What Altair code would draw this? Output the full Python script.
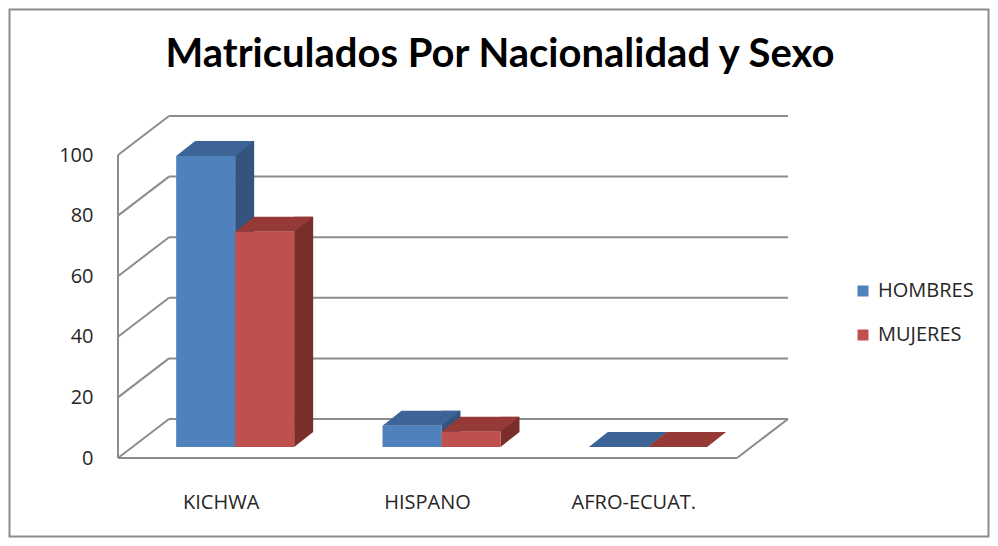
import altair as alt
import pandas as pd

# ---- data ----
categories = ["KICHWA", "HISPANO", "AFRO-ECUAT."]
sexos = ["HOMBRES", "MUJERES"]
hombres = [96, 7, 0]
mujeres = [71, 5, 0]
tick_values = [0, 20, 40, 60, 80, 100]
title_text = "Matriculados Por Nacionalidad y Sexo"

rows = []
for c, h, m in zip(categories, hombres, mujeres):
    rows.append({"Nacionalidad": c, "Sexo": "HOMBRES", "Valor": h})
    rows.append({"Nacionalidad": c, "Sexo": "MUJERES", "Valor": m})
df = pd.DataFrame(rows)
ticks_df = pd.DataFrame({"v": tick_values})

# ---- styling ----
front_colors = {"HOMBRES": "#4f81bd", "MUJERES": "#c0504d"}
top_colors = {"HOMBRES": "#3c6496", "MUJERES": "#953a37"}
side_colors = {"HOMBRES": "#34537d", "MUJERES": "#7a2e2c"}
# horizontal position of each series' front face relative to the category centre
series_shift = {"HOMBRES": -15.5, "MUJERES": 43.5}
LINE = "#8c8c8c"
FONT = "Open Sans"
TXT = "#262626"
W, H = 619, 303
DX, DY = 51, -39        # wall depth
BW = 59                 # bar width
BD_X, BD_Y = 19, -15    # bar depth
BAR_Y = -11             # bars sit slightly behind the front edge

yscale = alt.Scale(domain=[0, 100], nice=False, zero=True)
xscale = alt.Scale(domain=categories, paddingInner=0.427, paddingOuter=0.2135)

X_AXIS = alt.Axis(title=None, labelAngle=0, domain=False, ticks=False, grid=False,
                  labelFont=FONT, labelFontSize=20, labelColor=TXT, labelPadding=34)
Y_AXIS = alt.Axis(values=tick_values, title=None, domain=False, ticks=False,
                  grid=False, labelFont=FONT, labelFontSize=20,
                  labelColor=TXT, labelPadding=25)

x_enc = alt.X("Nacionalidad:N", scale=xscale, sort=categories, axis=X_AXIS, title=None)
y_val = alt.Y("Valor:Q", scale=yscale, stack=None, axis=Y_AXIS, title=None)
y_v = alt.Y("v:Q", scale=yscale, axis=Y_AXIS, title=None)
y_zero = alt.Y(datum=0, type="quantitative", scale=yscale, axis=Y_AXIS, title=None)

one = alt.Data(values=[{}])

# ---- walls / floor ----
left_edge = alt.Chart(one).mark_rule(color=LINE, strokeWidth=2).encode(
    x=alt.value(0), y=y_zero, y2=alt.Y2(datum=100))
left_diag = alt.Chart(ticks_df).mark_rule(color=LINE, strokeWidth=2, y2Offset=DY).encode(
    x=alt.value(0), x2=alt.value(DX), y=y_v, y2=alt.Y2("v:Q"))
back_grid = alt.Chart(ticks_df).mark_rule(color=LINE, strokeWidth=2, yOffset=DY).encode(
    x=alt.value(DX), x2=alt.value(W + DX), y=y_v)
floor_front = alt.Chart(one).mark_rule(color=LINE, strokeWidth=2).encode(
    x=alt.value(0), x2=alt.value(W), y=y_zero)
floor_right = alt.Chart(one).mark_rule(color=LINE, strokeWidth=2, y2Offset=DY).encode(
    x=alt.value(W), x2=alt.value(W + DX), y=y_zero, y2=alt.Y2(datum=0))

# ---- 3D bars ----
top_path = f"M{-BW/2},0 L{BW/2},0 L{BW/2 + BD_X},{BD_Y} L{-BW/2 + BD_X},{BD_Y} Z"
tri_path = f"M{BW/2},0 L{BW/2 + BD_X},{BD_Y} L{BW/2},{BD_Y} Z"

base = alt.Chart(df)
sides, tris, tops, fronts = [], [], [], []
for s in sexos:
    sub = base.transform_filter(alt.datum.Sexo == s)
    sh = series_shift[s]
    sides.append(sub.mark_bar(width=BD_X, color=side_colors[s],
                              xOffset=sh + BW / 2 + BD_X / 2,
                              yOffset=BAR_Y + BD_Y, y2Offset=BAR_Y + BD_Y).encode(
        x=x_enc, y=y_val, y2=alt.Y2(datum=0)))
    tris.append(sub.mark_point(shape=tri_path, size=4, filled=True, opacity=1,
                               strokeWidth=0, color=side_colors[s],
                               xOffset=sh, yOffset=BAR_Y).encode(
        x=x_enc, y=y_zero))
    tops.append(sub.mark_point(shape=top_path, size=4, filled=True, opacity=1,
                               strokeWidth=0, color=top_colors[s],
                               xOffset=sh, yOffset=BAR_Y).encode(
        x=x_enc, y=y_val))
    fronts.append(sub.mark_bar(width=BW, xOffset=sh, yOffset=BAR_Y,
                               y2Offset=BAR_Y).encode(
        x=x_enc, y=y_val, y2=alt.Y2(datum=0),
        color=alt.Color("Sexo:N",
                        scale=alt.Scale(domain=sexos,
                                        range=[front_colors[k] for k in sexos]),
                        legend=alt.Legend(title=None, orient="none",
                                          legendX=735, legendY=126,
                                          symbolType="square", symbolSize=121,
                                          symbolStrokeWidth=0, symbolOpacity=1,
                                          labelFont=FONT, labelFontSize=20,
                                          labelColor=TXT, labelOffset=5,
                                          rowPadding=24))))

title = alt.Chart(alt.Data(values=[{"t": title_text}])).mark_text(
    font="Lato", fontSize=40, fontWeight="bold", color="#000000",
    align="center", baseline="alphabetic").encode(
    text="t:N", x=alt.value(382), y=alt.value(-88))

frame = alt.Chart(one).mark_rect(fillOpacity=0, stroke="#8c8c8c", strokeWidth=2).encode(
    x=alt.value(-108.5), x2=alt.value(870.5), y=alt.value(-145.5), y2=alt.value(381.5))

chart = alt.layer(
    frame, left_edge, left_diag, back_grid, floor_front, floor_right,
    *sides, *tris, *tops, *fronts, title
).properties(
    width=W, height=H,
    autosize=alt.AutoSizeParams(type="none"),
    padding={"left": 110, "top": 147, "right": 253, "bottom": 80},
    background="white",
).configure_view(stroke=None)

chart.save("out.html", embed_options={"renderer": "svg", "actions": False})
